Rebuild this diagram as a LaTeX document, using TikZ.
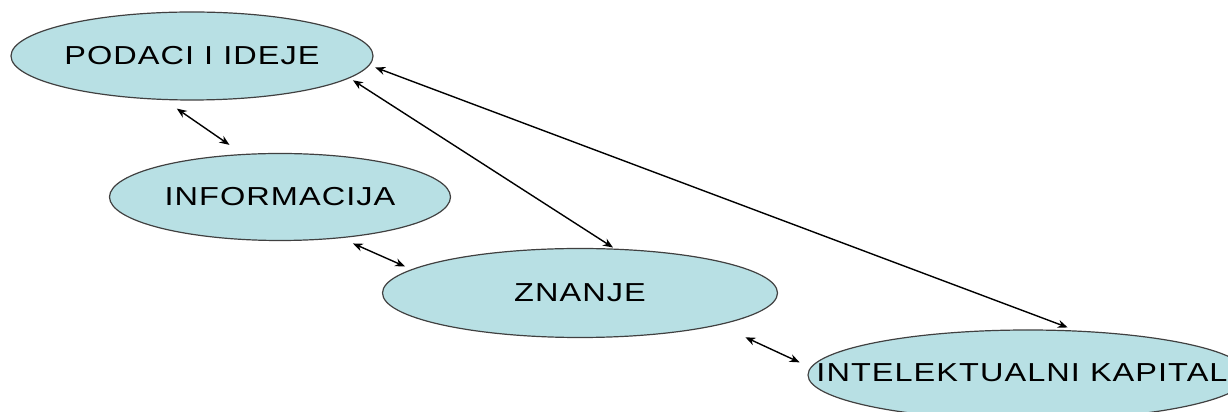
\documentclass[tikz,border=0pt]{standalone}
\usepackage{fontspec}
\setmainfont{Liberation Sans}
\newfontfamily\bubblefont[FakeStretch=1.25,LetterSpace=4]{Liberation Sans}
\usetikzlibrary{arrows.meta,shapes.geometric}
\definecolor{bubblecyan}{RGB}{184,224,228}

\begin{document}
\begin{tikzpicture}[x=0.5pt, y=0.5pt,
  bubble/.style={ellipse, draw=black!75, line width=0.6pt, fill=bubblecyan, inner sep=0pt,
                 font=\bubblefont\fontsize{13}{15}\selectfont},
  link/.style={{Stealth[length=5pt,width=4pt]}-{Stealth[length=5pt,width=4pt]},
               line width=0.7pt}
]
\useasboundingbox (0,0) rectangle (1228,412);

% --- Ellipses ---
\node[bubble, minimum width=181pt, minimum height=44pt] (pod) at (192,356) {PODACI I IDEJE};
\node[bubble, minimum width=170.5pt, minimum height=43.5pt] (inf) at (280,215) {INFORMACIJA};
\node[bubble, minimum width=197.5pt, minimum height=44.5pt] (zna) at (580,119) {ZNANJE};
\node[bubble, minimum width=220pt, minimum height=45pt,
      label={[font=\bubblefont\fontsize{13}{15}\selectfont, xshift=-3pt, yshift=1pt]center:INTELEKTUALNI KAPITAL}]
      (kap) at (1028,37) {};

% --- Short arrows between neighbours ---
\draw[link, shorten <=7.5pt, shorten >=8pt] (pod.-122) -- (inf.131);
\draw[link, shorten <=6.5pt, shorten >=3.5pt] (inf.-34) -- (zna.172);
\draw[link, shorten <=14.5pt, shorten >=6pt] (zna.-13) -- (kap.178);

% --- Long arrows from the top ellipse ---
\draw[link, shorten <=2pt, shorten >=1pt] (pod.-8) -- (zna.52);
\draw[link, shorten <=3pt, shorten >=4.3pt] (pod.-3) -- (kap.43);

\end{tikzpicture}
\end{document}
